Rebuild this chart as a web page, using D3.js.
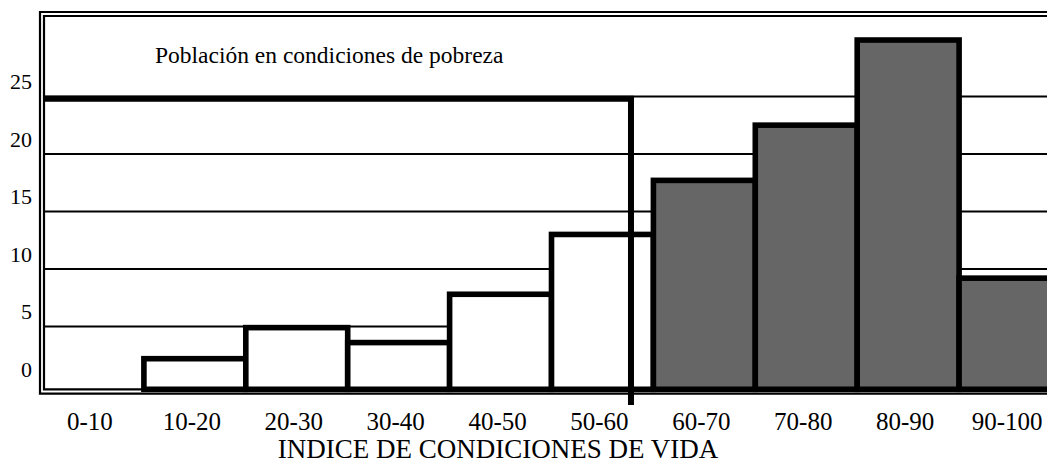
<!DOCTYPE html>
<html>
<head>
<meta charset="utf-8">
<script src="https://cdn.jsdelivr.net/npm/d3@7"></script>
<style>
  html, body { margin: 0; padding: 0; background: #fff; }
  svg { display: block; }
  text { font-family: "Liberation Serif", "Times New Roman", serif; fill: #000; }
</style>
</head>
<body>
<svg id="chart" width="1047" height="465"></svg>
<script>
// ---- data ----
const categories = ["0-10", "10-20", "20-30", "30-40", "40-50", "50-60", "60-70", "70-80", "80-90", "90-100"];
const values = [0, 2.2, 4.9, 3.6, 7.8, 13.0, 17.7, 22.5, 29.9, 9.2];
const shaded = [false, false, false, false, false, false, true, true, true, true];
const yTicks = [0, 5, 10, 15, 20, 25];
const povertyLevel = 24.8;   // height of the poverty bracket
const povertyIndex = 57.8;   // index where the poverty bracket ends
const annotation = "Población en condiciones de pobreza";
const xTitle = "INDICE DE CONDICIONES DE VIDA";

// ---- layout ----
const svg = d3.select("#chart");
const frame = { outerL: 40, outerT: 12, outerB: 393.7, innerL: 44, innerT: 16, innerB: 389.3, right: 1080 };

const x = d3.scaleBand().domain(categories).range([42, 1061]).padding(0);
const xIdx = d3.scaleLinear().domain([0, 100]).range([42, 1061]);
const y = d3.scaleLinear().domain([0, 25]).range([384, 96.4]);

// gridlines
svg.append("g")
  .selectAll("line")
  .data(yTicks.filter(d => d > 0))
  .join("line")
  .attr("x1", frame.innerL).attr("x2", frame.right)
  .attr("y1", d => y(d)).attr("y2", d => y(d))
  .attr("stroke", "#000").attr("stroke-width", 2);

// bars
const bars = categories.map((c, i) => ({ c, v: values[i], s: shaded[i] })).filter(d => d.v > 0);
svg.append("g")
  .selectAll("rect")
  .data(bars)
  .join("rect")
  .attr("x", d => x(d.c))
  .attr("width", x.bandwidth())
  .attr("y", d => y(d.v))
  .attr("height", d => frame.innerB - y(d.v))
  .attr("fill", d => d.s ? "#666666" : "#ffffff")
  .attr("stroke", "#000")
  .attr("stroke-width", 5.6)
  .attr("stroke-linejoin", "miter");

// poverty bracket
svg.append("path")
  .attr("d", `M${frame.innerL},${y(povertyLevel)} H${xIdx(povertyIndex)} V405`)
  .attr("fill", "none")
  .attr("stroke", "#000")
  .attr("stroke-width", 6)
  .attr("stroke-linejoin", "miter");

// double frame
const fr = svg.append("g").attr("fill", "none").attr("stroke", "#000").attr("stroke-width", 2.2);
fr.append("path").attr("d", `M${frame.right},${frame.outerT} H${frame.outerL} V${frame.outerB} H${frame.right}`);
fr.append("path").attr("d", `M${frame.right},${frame.innerT} H${frame.innerL} V${frame.innerB} H${frame.right}`);

// y tick labels
svg.append("g")
  .selectAll("text")
  .data(yTicks)
  .join("text")
  .attr("x", 32)
  .attr("y", d => y(d) - 7)
  .attr("text-anchor", "end")
  .attr("font-size", 22)
  .text(d => d);

// x tick labels
svg.append("g")
  .selectAll("text")
  .data(categories)
  .join("text")
  .attr("x", d => x(d) + x.bandwidth() / 2 - 3)
  .attr("y", 430)
  .attr("text-anchor", "middle")
  .attr("font-size", 25)
  .text(d => d);

// axis title
svg.append("text")
  .attr("x", 498)
  .attr("y", 458)
  .attr("text-anchor", "middle")
  .attr("font-size", 27)
  .text(xTitle);

// annotation
svg.append("text")
  .attr("x", 155)
  .attr("y", 63)
  .attr("font-size", 23.5)
  .text(annotation);
</script>
</body>
</html>
